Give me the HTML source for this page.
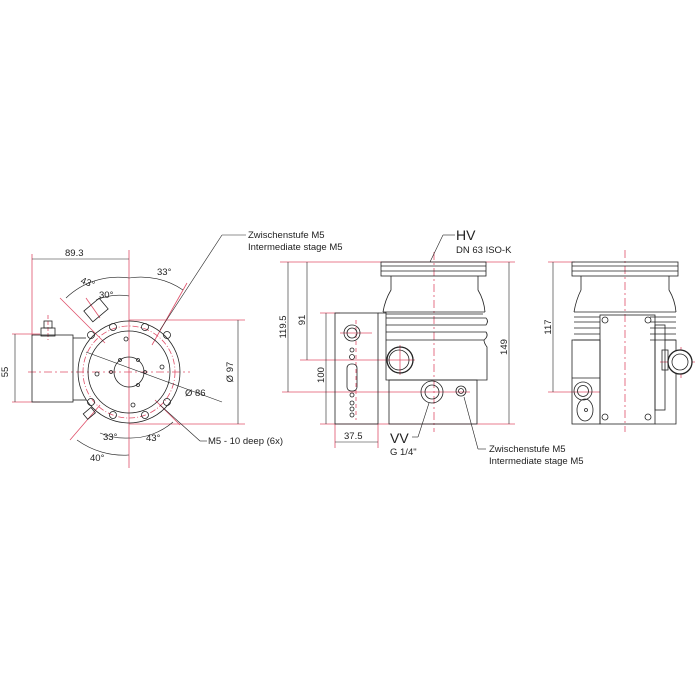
<!DOCTYPE html>
<html><head><style>html,body{margin:0;padding:0;background:#fff}svg{display:block}</style></head><body>
<svg width="700" height="700" viewBox="0 0 700 700" xmlns="http://www.w3.org/2000/svg" font-family="Liberation Sans, sans-serif" font-size="10">
<rect width="700" height="700" fill="#fff"/>
<g stroke="#e0506a" stroke-width="0.8" fill="none">
<line x1="32" y1="254" x2="32" y2="336"/>
<line x1="129" y1="250" x2="129" y2="468"/>
<line x1="12" y1="334" x2="40" y2="334"/><line x1="12" y1="402" x2="40" y2="402"/>
<line x1="129" y1="320" x2="245" y2="320"/><line x1="129" y1="424" x2="245" y2="424"/>
<line x1="60" y1="298" x2="105" y2="343"/>
<line x1="152" y1="345" x2="187" y2="283"/>
<line x1="70" y1="440" x2="100" y2="405"/>
<line x1="155" y1="400" x2="180" y2="425"/>
<line x1="86" y1="298" x2="100" y2="318"/>
<circle cx="129" cy="372" r="46" stroke-dasharray="6,2,1,2"/>
<line x1="28" y1="372" x2="190" y2="372" stroke-dasharray="8,3,2,3"/>
<line x1="48" y1="315" x2="48" y2="340" stroke-dasharray="4,2"/>
<line x1="280" y1="262" x2="515" y2="262"/>
<line x1="434" y1="252" x2="434" y2="432" stroke-dasharray="8,3,2,3"/>
<line x1="300" y1="360" x2="415" y2="360"/>
<line x1="282" y1="392" x2="470" y2="392"/>
<line x1="320" y1="313" x2="340" y2="313"/>
<line x1="320" y1="424" x2="515" y2="424"/>
<line x1="335" y1="424" x2="335" y2="448"/><line x1="378" y1="424" x2="378" y2="448"/>
<line x1="356" y1="320" x2="356" y2="420" stroke-dasharray="4,3"/>
<line x1="340" y1="333" x2="372" y2="333"/>
<line x1="400" y1="345" x2="400" y2="375"/>
<line x1="548" y1="262" x2="575" y2="262"/>
<line x1="548" y1="392" x2="600" y2="392"/>
<line x1="625" y1="250" x2="625" y2="432" stroke-dasharray="8,3,2,3"/>
<line x1="660" y1="362" x2="695" y2="362"/>
<line x1="681" y1="347" x2="681" y2="378"/>
</g>
<g stroke="#222" stroke-width="0.8" fill="none">
<rect x="32" y="335" width="41" height="67"/>
<line x1="73" y1="338" x2="86" y2="338"/><line x1="73" y1="400" x2="86" y2="400"/>
<rect x="41" y="328" width="14" height="8"/><rect x="44" y="321" width="8" height="7"/>
<circle cx="129" cy="372" r="51"/>
<circle cx="129" cy="372" r="41"/>
<circle cx="129" cy="372" r="15"/>
<rect x="86" y="303" width="20" height="14" transform="rotate(-40 96 310)"/>
<rect x="84" y="410" width="10" height="7" transform="rotate(-40 89 413)"/>
<g>
<circle cx="113" cy="327" r="3.5"/><circle cx="145" cy="327" r="3.5"/>
<circle cx="91" cy="335" r="3.5"/><circle cx="167" cy="335" r="3.5"/>
<circle cx="91" cy="402" r="3.5"/><circle cx="167" cy="402" r="3.5"/>
<circle cx="113" cy="415" r="3.5"/><circle cx="145" cy="415" r="3.5"/>
<circle cx="126" cy="339" r="2"/><circle cx="97" cy="374" r="2"/><circle cx="162" cy="367" r="2"/><circle cx="133" cy="405" r="2"/>
<circle cx="120" cy="360" r="1.5"/><circle cx="138" cy="360" r="1.5"/><circle cx="145" cy="372" r="1.5"/><circle cx="138" cy="385" r="1.5"/><circle cx="111" cy="372" r="1.5"/>
</g>
<line x1="86" y1="352" x2="222" y2="402" stroke-width="0.6"/>
<line x1="160" y1="330" x2="222" y2="235" stroke-width="0.6"/><line x1="222" y1="235" x2="246" y2="235" stroke-width="0.6"/>
<line x1="160" y1="405" x2="200" y2="441" stroke-width="0.6"/><line x1="200" y1="441" x2="207" y2="441" stroke-width="0.6"/>
<line x1="32" y1="259" x2="129" y2="259" stroke-width="0.6"/>
<line x1="15" y1="334" x2="15" y2="402" stroke-width="0.6"/>
<line x1="238" y1="320" x2="238" y2="424" stroke-width="0.6"/>
<path d="M66,298 A75,75 0 0 1 129,278" stroke-width="0.6"/>
<path d="M129,278 A75,75 0 0 1 183,290" stroke-width="0.6"/>
<path d="M96,300 A60,60 0 0 1 129,296" stroke-width="0.6"/>
<path d="M100,433 A65,65 0 0 0 129,438" stroke-width="0.6"/>
<path d="M129,438 A65,65 0 0 0 173,422" stroke-width="0.6"/>
<path d="M77,440 A80,80 0 0 0 129,455" stroke-width="0.6"/>
<rect x="381" y="262" width="105" height="14"/>
<line x1="381" y1="266" x2="486" y2="266"/><line x1="381" y1="271" x2="486" y2="271"/>
<path d="M391,276 L391,290 Q385,300 383,312 M478,276 L478,290 Q484,300 485,312"/>
<line x1="383" y1="312" x2="485" y2="312"/>
<path d="M386,314 H483 M386,318 H486 Q489,321 486,325 H386 M386,332 H486 Q489,336 484,340 H386"/>
<path d="M386,312 V380 H487 V347 Q484,343 484,340"/>
<rect x="389" y="380" width="88" height="44"/>
<rect x="335" y="313" width="43" height="111"/>
<line x1="378" y1="313" x2="386" y2="313"/>
<circle cx="352" cy="333" r="8"/><circle cx="352" cy="333" r="5"/>
<circle cx="352" cy="350" r="2"/><circle cx="352" cy="357" r="2.5"/>
<rect x="347" y="364" width="10" height="27" rx="4"/>
<circle cx="352" cy="395" r="2"/><circle cx="352" cy="403" r="2"/><circle cx="352" cy="409" r="2"/><circle cx="352" cy="415" r="2"/>
<circle cx="400" cy="360" r="13" stroke-width="1.3"/>
<circle cx="399" cy="360" r="10"/>
<circle cx="432" cy="392" r="11"/><circle cx="432" cy="392" r="7"/>
<circle cx="461" cy="391" r="5"/><circle cx="461" cy="391" r="2.5"/>
<line x1="288" y1="262" x2="288" y2="392" stroke-width="0.6"/>
<line x1="307" y1="262" x2="307" y2="360" stroke-width="0.6"/>
<line x1="326" y1="313" x2="326" y2="424" stroke-width="0.6"/>
<line x1="509" y1="262" x2="509" y2="424" stroke-width="0.6"/>
<line x1="335" y1="442" x2="378" y2="442" stroke-width="0.6"/>
<line x1="430" y1="262" x2="443" y2="235" stroke-width="0.6"/><line x1="443" y1="235" x2="455" y2="235" stroke-width="0.6"/>
<line x1="429" y1="403" x2="418" y2="437" stroke-width="0.6"/><line x1="412" y1="437" x2="418" y2="437" stroke-width="0.6"/>
<line x1="464" y1="397" x2="478" y2="449" stroke-width="0.6"/><line x1="478" y1="449" x2="486" y2="449" stroke-width="0.6"/>
<rect x="572" y="262" width="106" height="14"/>
<line x1="572" y1="266" x2="678" y2="266"/><line x1="572" y1="271" x2="678" y2="271"/>
<path d="M581,276 L581,290 Q576,300 574,312 M669,276 L669,290 Q675,300 676,312"/>
<path d="M574,312 H676 M574,317 H600 M574,322 H600 M574,328 H600 M574,334 H600 M574,340 H600"/>
<path d="M650,317 H676 M650,322 H676 M650,328 H676 M650,334 H676 M650,340 H676"/>
<rect x="572" y="340" width="28" height="84"/>
<rect x="600" y="315" width="55" height="109"/>
<rect x="655" y="325" width="10" height="85"/>
<path d="M665,340 H676 V424 H655"/>
<line x1="572" y1="378" x2="600" y2="378"/>
<circle cx="605" cy="320" r="3"/><circle cx="648" cy="320" r="3"/>
<circle cx="605" cy="417" r="3"/><circle cx="648" cy="417" r="3"/>
<circle cx="680" cy="362" r="12" stroke-width="1.3" fill="#fff"/>
<circle cx="680" cy="362" r="8"/>
<rect x="662" y="350" width="6" height="20"/>
<circle cx="583" cy="391" r="9"/><circle cx="583" cy="391" r="5.5"/>
<ellipse cx="585" cy="410" rx="8" ry="11"/><circle cx="586" cy="410" r="1.5"/>
<line x1="553" y1="262" x2="553" y2="392" stroke-width="0.6"/>
</g>
<g fill="#222" font-size="9.5">
<text x="65" y="256">89.3</text>
<text x="8" y="372" transform="rotate(-90 8 372)" text-anchor="middle">55</text>
<text x="233" y="372" transform="rotate(-90 233 372)" text-anchor="middle">Ø 97</text>
<text x="80" y="283" transform="rotate(20 80 283)">43°</text>
<text x="157" y="275">33°</text>
<text x="99" y="298">30°</text>
<text x="185" y="396">Ø 86</text>
<text x="103" y="440">33°</text>
<text x="146" y="441">43°</text>
<text x="90" y="461">40°</text>
<text x="208" y="444">M5 - 10 deep (6x)</text>
<text x="248" y="238">Zwischenstufe M5</text>
<text x="248" y="250">Intermediate stage M5</text>
<text x="456" y="240" font-size="14">HV</text>
<text x="456" y="253">DN 63 ISO-K</text>
<text x="286" y="327" transform="rotate(-90 286 327)" text-anchor="middle">119.5</text>
<text x="305" y="320" transform="rotate(-90 305 320)" text-anchor="middle">91</text>
<text x="324" y="375" transform="rotate(-90 324 375)" text-anchor="middle">100</text>
<text x="507" y="347" transform="rotate(-90 507 347)" text-anchor="middle">149</text>
<text x="344" y="439">37.5</text>
<text x="390" y="443" font-size="14">VV</text>
<text x="390" y="455">G 1/4"</text>
<text x="489" y="452">Zwischenstufe M5</text>
<text x="489" y="464">Intermediate stage M5</text>
<text x="551" y="327" transform="rotate(-90 551 327)" text-anchor="middle">117</text>
</g>
</svg>
</body></html>
